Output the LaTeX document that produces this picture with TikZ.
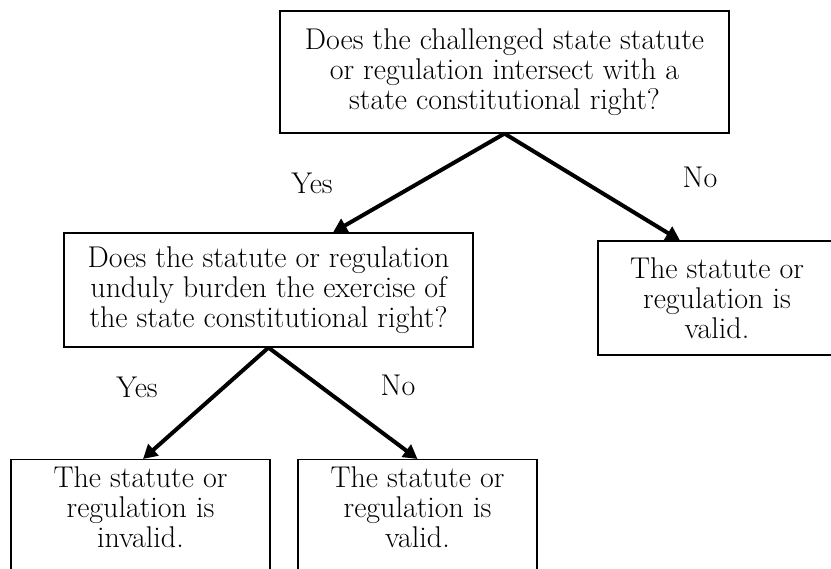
\documentclass[tikz,border=0pt]{standalone}
\usepackage{tikz}
\usetikzlibrary{arrows.meta}

\tikzset{
  qbox/.style={draw, rectangle, line width=1.2pt, align=center, inner sep=0pt, font=\fontsize{30}{30}\selectfont},
  answer/.style={font=\fontsize{30}{30}\selectfont},
  flow/.style={-{Triangle[length=14pt,width=15pt]}, line width=4pt},
}

\begin{document}
\begin{tikzpicture}[x=1pt,y=-1pt]
	\useasboundingbox (0,0) rectangle (831,569);
	\clip (0,0) rectangle (831,569);
	% questions
	\node[qbox, minimum width=449pt, minimum height=122pt] (intersect) at (504.5,72) {Does the challenged state statute\\or regulation intersect with a\\state constitutional right?};
	\node[qbox, minimum width=409pt, minimum height=114pt] (burden) at (268.5,290) {Does the statute or regulation\\unduly burden the exercise of\\the state constitutional right?};
	% outcomes
	\node[qbox, minimum width=238pt, minimum height=114pt] (valid1) at (717,298) {The statute or\\regulation is\\valid.};
	\node[qbox, anchor=north, minimum width=259pt, inner ysep=7pt, text depth=80pt] (invalid) at (140.5,459) {The statute or\\regulation is\\invalid.};
	\node[qbox, anchor=north, minimum width=239pt, inner ysep=7pt, text depth=80pt] (valid2) at (417.5,459) {The statute or\\regulation is\\valid.};
	
	\node[answer] (yes1) at (312,183) {Yes};
	\node[answer] (no1) at (700,177) {No};
	\node[answer] (yes2) at (137,387) {Yes};
	\node[answer] (no2) at (398,385) {No};
	
	\draw[flow] (intersect.south) -- ([xshift=64.5pt]burden.north);
	\draw[flow] (intersect.south) -- ([xshift=-37pt]valid1.north);
	\draw[flow] (burden.south) -- ([xshift=2.5pt]invalid.north);
	\draw[flow] (burden.south) -- (valid2.north);
\end{tikzpicture}
\end{document}
